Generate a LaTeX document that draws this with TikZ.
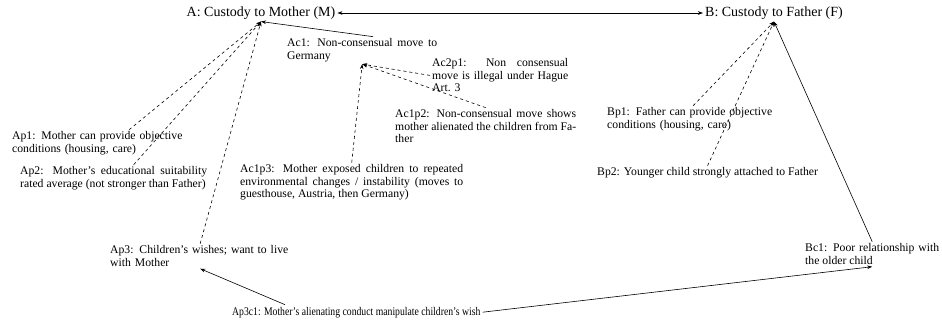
\documentclass[tikz,border=0pt]{standalone}
\usepackage{fontspec}
\setmainfont{Liberation Serif}
\usetikzlibrary{arrows.meta}
\begin{document}
\begin{tikzpicture}[x=1pt,y=-1pt,
  >={Stealth[length=5pt,width=3.6pt]},
  claim/.style={font=\fontsize{14}{16}\selectfont, inner sep=2pt},
  arg/.style={font=\fontsize{11.7}{12.4}\selectfont, inner sep=2pt, align=justify, anchor=base west},
  supp/.style={->, dashed, line width=0.6pt},
  attk/.style={->, line width=0.6pt}]
\useasboundingbox (0,0) rectangle (942,320);
\node[claim] (A) at (261,13) {A: Custody to Mother (M)};
\node[claim] (B) at (774,13) {B: Custody to Father (F)};
\node[arg, text width=150pt] (Ac1) at (285,47) {Ac1: Non-consensual move to\linebreak Germany};
\node[arg, text width=136pt] (Ac2p1) at (430,67) {Ac2p1: Non consensual\linebreak move is illegal under Hague\linebreak Art. 3};
\node[arg, text width=181pt] (Ac1p2) at (393,118) {Ac1p2: Non-consensual move shows\linebreak mother alienated the children from Fa-\linebreak ther};
\node[arg, text width=223pt] (Ac1p3) at (238,173) {Ac1p3: Mother exposed children to repeated\linebreak environmental changes / instability (moves to\linebreak guesthouse, Austria, then Germany)};
\node[arg, text width=172pt, align=left] (Ap1) at (10,140) {Ap1: Mother can provide objective\\ conditions (housing, care)};
\node[arg, text width=187pt] (Ap2) at (18,175) {Ap2: Mother's educational suitability\linebreak rated average (not stronger than Father)};
\node[arg, text width=180pt, align=left] (Ap3) at (108,254) {Ap3: Children's wishes; want to live\\ with Mother};
\node[arg, text width=172pt, align=left] (Bp1) at (605,116) {Bp1: Father can provide objective\\ conditions (housing, care)};
\node[arg, align=left] (Bp2) at (595,176) {Bp2: Younger child strongly attached to Father};
\node[arg, text width=134pt] (Bc1) at (803,252) {Bc1: Poor relationship with\linebreak the older child};
\node[arg, align=left] (Ap3c1) at (230,315) {\scalebox{0.83}[1]{Ap3c1: Mother's alienating conduct manipulate children's wish}};

\draw[<->, line width=0.6pt] (A) -- (B);
\draw[attk] ([xshift=11pt]Ac1.north) -- (A.south);
\draw[supp] (Ac2p1.west) -- (Ac1.south);
\draw[supp] (Ac1p2.north) -- (Ac1.south);
\draw[supp] (Ac1p3.north) -- (Ac1.south);
\draw[supp] ([xshift=31pt]Ap1.north) -- (A.south);
\draw[supp] ([xshift=20pt]Ap2.north) -- (A.south);
\draw[supp] (Ap3.north) -- (A.south);
\draw[supp] (Bp1.north) -- (B.south);
\draw[supp] (Bp2.north) -- (B.south);
\draw[attk] (Bc1.north) -- (B.south);
\draw[attk] ([xshift=55pt]Ap3c1.north west) -- (Ap3.south);
\draw[attk] (Ap3c1.east) -- (Bc1.south);
\end{tikzpicture}
\end{document}
